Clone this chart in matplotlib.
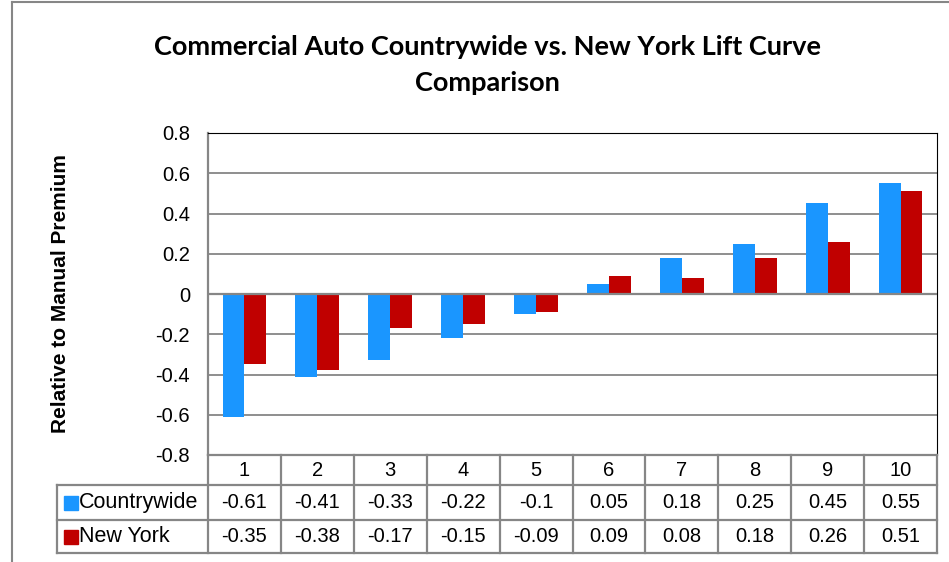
import matplotlib.pyplot as plt
import numpy as np
from matplotlib.patches import Rectangle
from matplotlib.lines import Line2D

# data
categories = ['1', '2', '3', '4', '5', '6', '7', '8', '9', '10']
countrywide = [-0.61, -0.41, -0.33, -0.22, -0.1, 0.05, 0.18, 0.25, 0.45, 0.55]
new_york = [-0.35, -0.38, -0.17, -0.15, -0.09, 0.09, 0.08, 0.18, 0.26, 0.51]
series_names = ['Countrywide', 'New York']
yticks = [-0.8, -0.6, -0.4, -0.2, 0, 0.2, 0.4, 0.6, 0.8]

blue = '#1A96FF'
red = '#C00000'
grid = '#868686'

plt.rcParams['font.family'] = ['Liberation Sans', 'DejaVu Sans']

W, H = 949, 562
fig = plt.figure(figsize=(W / 100, H / 100), dpi=100)

def fx(px):
    return px / W

def fy(py):
    return 1 - py / H

# plot area in pixels
left, right, top, bottom = 208, 937, 133, 455
ax = fig.add_axes([fx(left), fy(bottom), fx(right) - fx(left), fy(top) - fy(bottom)])

x = np.arange(len(categories))
bw = 0.30
ax.bar(x - bw / 2, countrywide, bw, color=blue, zorder=3)
ax.bar(x + bw / 2, new_york, bw, color=red, zorder=3)

ax.set_xlim(-0.5, len(categories) - 0.5)
ax.set_ylim(-0.8, 0.8)
ax.set_yticks(yticks)
ax.set_yticklabels(['0' if v == 0 else f'{v:g}' for v in yticks], fontsize=14.5)
ax.tick_params(axis='y', length=0, pad=13)
ax.set_xticks([])
for v in yticks:
    ax.axhline(v, color=grid, lw=1.3, zorder=1)
ax.axhline(0, color=grid, lw=1.6, zorder=4)
ax.spines['left'].set_color(grid)
ax.spines['left'].set_linewidth(1.6)
ax.spines['bottom'].set_visible(False)
ax.spines['top'].set_color('black')
ax.spines['right'].set_color('black')

ax.set_ylabel('Relative to Manual Premium', fontsize=15, fontweight='bold')
ax.yaxis.set_label_coords((70 - left) / (right - left), 0.5)

title_font = ['Lato', 'Liberation Sans', 'DejaVu Sans']
fig.text(0.514, fy(47), 'Commercial Auto Countrywide vs. New York Lift Curve',
         ha='center', va='center', fontsize=19.5, fontweight='bold', family=title_font)
fig.text(0.514, fy(83), 'Comparison', ha='center', va='center', fontsize=19.5,
         fontweight='bold', family=title_font)

# data table under the plot
row_edges = [455, 485, 520, 553]
tab_left = 57
col_w = (right - left) / len(categories)
tl = dict(color=grid, lw=1.6, transform=fig.transFigure, clip_on=False)
fig.add_artist(Line2D([fx(left), fx(right)], [fy(row_edges[0])] * 2, **tl))
for r in row_edges[1:]:
    fig.add_artist(Line2D([fx(tab_left), fx(right)], [fy(r)] * 2, **tl))
for i in range(len(categories) + 1):
    xp = left + i * col_w
    fig.add_artist(Line2D([fx(xp)] * 2, [fy(row_edges[0]), fy(row_edges[-1])], **tl))
fig.add_artist(Line2D([fx(tab_left)] * 2, [fy(row_edges[1]), fy(row_edges[-1])], **tl))

rows = [countrywide, new_york]
colors = [blue, red]
for i, c in enumerate(categories):
    xc = fx(left + (i + 0.5) * col_w)
    fig.text(xc, fy((row_edges[0] + row_edges[1]) / 2), c, ha='center', va='center', fontsize=14.5)
    for j, vals in enumerate(rows):
        yc = fy((row_edges[j + 1] + row_edges[j + 2]) / 2)
        fig.text(xc, yc, f'{vals[i]:g}', ha='center', va='center', fontsize=14.5)
for j, name in enumerate(series_names):
    yc = (row_edges[j + 1] + row_edges[j + 2]) / 2
    fig.add_artist(Rectangle((fx(64), fy(yc + 7)), fx(14), fy(0) - fy(14),
                             color=colors[j], transform=fig.transFigure))
    fig.text(fx(79), fy(yc), name, ha='left', va='center', fontsize=15.5)

# outer chart border
fig.add_artist(Line2D([fx(12), fx(12)], [fy(2), 0], color=grid, lw=1.5,
                      transform=fig.transFigure))
fig.add_artist(Line2D([fx(12), 1], [fy(2), fy(2)], color=grid, lw=1.5,
                      transform=fig.transFigure))

fig.savefig('out.png', dpi=100)
